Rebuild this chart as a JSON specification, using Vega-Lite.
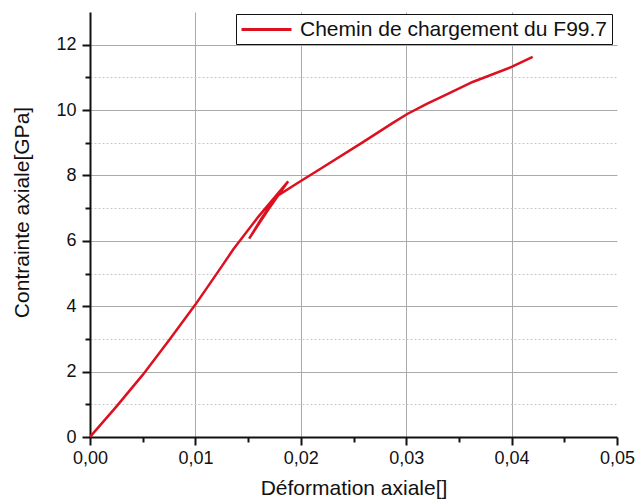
{
  "$schema": "https://vega.github.io/schema/vega-lite/v6.json",
  "autosize": {"type": "none"},
  "width": 527,
  "height": 425,
  "padding": {"left": 90, "top": 12, "right": 18, "bottom": 67},
  "background": "white",
  "config": {
    "view": {"stroke": null},
    "font": "Liberation Sans"
  },
  "data": {
    "values": [
      {"i": 0, "x": 0.0, "y": 0.0, "s": "Chemin de chargement du F99.7"},
      {"i": 1, "x": 0.0025, "y": 0.93, "s": "Chemin de chargement du F99.7"},
      {"i": 2, "x": 0.005, "y": 1.9, "s": "Chemin de chargement du F99.7"},
      {"i": 3, "x": 0.0075, "y": 2.96, "s": "Chemin de chargement du F99.7"},
      {"i": 4, "x": 0.01, "y": 4.05, "s": "Chemin de chargement du F99.7"},
      {"i": 5, "x": 0.0125, "y": 5.22, "s": "Chemin de chargement du F99.7"},
      {"i": 6, "x": 0.0136, "y": 5.74, "s": "Chemin de chargement du F99.7"},
      {"i": 7, "x": 0.016, "y": 6.75, "s": "Chemin de chargement du F99.7"},
      {"i": 8, "x": 0.0188, "y": 7.82, "s": "Chemin de chargement du F99.7"},
      {"i": 9, "x": 0.0169, "y": 6.95, "s": "Chemin de chargement du F99.7"},
      {"i": 10, "x": 0.0151, "y": 6.07, "s": "Chemin de chargement du F99.7"},
      {"i": 11, "x": 0.0163, "y": 6.7, "s": "Chemin de chargement du F99.7"},
      {"i": 12, "x": 0.0177, "y": 7.36, "s": "Chemin de chargement du F99.7"},
      {"i": 13, "x": 0.0197, "y": 7.77, "s": "Chemin de chargement du F99.7"},
      {"i": 14, "x": 0.0218, "y": 8.19, "s": "Chemin de chargement du F99.7"},
      {"i": 15, "x": 0.0259, "y": 9.02, "s": "Chemin de chargement du F99.7"},
      {"i": 16, "x": 0.0287, "y": 9.6, "s": "Chemin de chargement du F99.7"},
      {"i": 17, "x": 0.0301, "y": 9.88, "s": "Chemin de chargement du F99.7"},
      {"i": 18, "x": 0.032, "y": 10.2, "s": "Chemin de chargement du F99.7"},
      {"i": 19, "x": 0.0339, "y": 10.49, "s": "Chemin de chargement du F99.7"},
      {"i": 20, "x": 0.0363, "y": 10.86, "s": "Chemin de chargement du F99.7"},
      {"i": 21, "x": 0.04, "y": 11.32, "s": "Chemin de chargement du F99.7"},
      {"i": 22, "x": 0.042, "y": 11.63, "s": "Chemin de chargement du F99.7"}
    ]
  },
  "mark": {"type": "line", "strokeWidth": 2.5, "clip": true},
  "encoding": {
    "order": {"field": "i", "type": "quantitative"},
    "x": {
      "field": "x",
      "type": "quantitative",
      "scale": {"domain": [0, 0.05], "nice": false, "zero": false},
      "axis": {
        "title": "Déformation axiale[]",
        "values": [0, 0.005, 0.01, 0.015, 0.02, 0.025, 0.03, 0.035, 0.04, 0.045, 0.05],
        "labelExpr": "round(datum.value*200) % 2 == 1 ? '' : replace(format(datum.value, '.2f'), '.', ',')",
        "labelFontSize": 18,
        "labelColor": "#111111",
        "labelPadding": 4,
        "labelFlush": false,
        "labelOverlap": false,
        "titleFontSize": 21,
        "titleFontWeight": "normal",
        "titleColor": "#111111",
        "titlePadding": 10,
        "domainColor": "#111111",
        "domainWidth": 2,
        "tickColor": "#111111",
        "tickWidth": 2,
        "tickSize": {"condition": {"test": "round(datum.value*200) % 2 == 1", "value": 5}, "value": 8},
        "grid": true,
        "gridColor": "#aaaaaa",
        "gridWidth": 1,
        "gridOpacity": {"condition": {"test": "round(datum.value*200) % 2 == 1 || datum.value == 0 || datum.value == 0.05", "value": 0}, "value": 1}
      }
    },
    "y": {
      "field": "y",
      "type": "quantitative",
      "scale": {"domain": [0, 13], "nice": false, "zero": false},
      "axis": {
        "title": "Contrainte axiale[GPa]",
        "values": [0, 1, 2, 3, 4, 5, 6, 7, 8, 9, 10, 11, 12],
        "labelExpr": "datum.value % 2 == 1 ? '' : format(datum.value, 'd')",
        "labelFontSize": 18,
        "labelColor": "#111111",
        "labelPadding": 6,
        "labelFlush": false,
        "labelOverlap": false,
        "titleFontSize": 21,
        "titleFontWeight": "normal",
        "titleColor": "#111111",
        "titlePadding": 23,
        "titleY": 200,
        "domainColor": "#111111",
        "domainWidth": 2,
        "tickColor": "#111111",
        "tickWidth": 2,
        "tickSize": {"condition": {"test": "datum.value % 2 == 1", "value": 5}, "value": 8},
        "grid": true,
        "gridColor": {"condition": {"test": "datum.value % 2 == 1", "value": "#c8c8c8"}, "value": "#aaaaaa"},
        "gridDash": {"condition": {"test": "datum.value % 2 == 1", "value": [2, 2]}, "value": []},
        "gridWidth": 1,
        "gridOpacity": {"condition": {"test": "datum.value == 0", "value": 0}, "value": 1}
      }
    },
    "color": {
      "field": "s",
      "type": "nominal",
      "scale": {"range": ["#dd1020"]},
      "legend": {
        "title": null,
        "orient": "none",
        "legendX": 146,
        "legendY": 2,
        "direction": "vertical",
        "fillColor": "white",
        "strokeColor": "#111111",
        "padding": 4,
        "symbolType": "M-1,0L4,0",
        "symbolSize": 400,
        "symbolStrokeWidth": 3,
        "symbolOpacity": 1,
        "labelFontSize": 21,
        "labelColor": "#111111",
        "labelOffset": 37,
        "labelLimit": 400
      }
    }
  }
}
